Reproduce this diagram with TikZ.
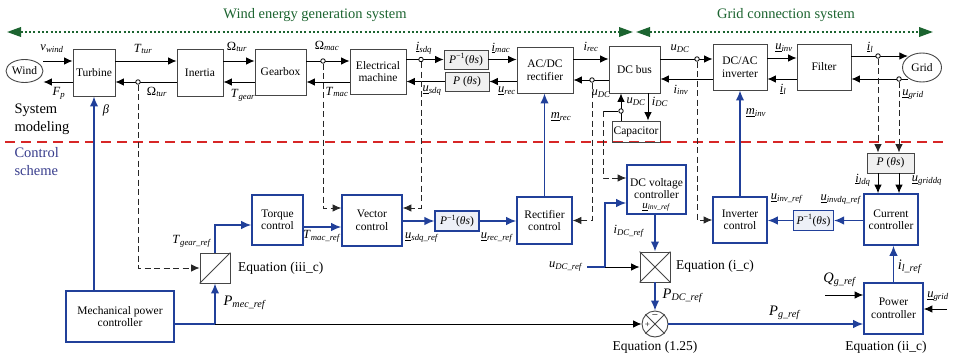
\documentclass[tikz,border=0pt]{standalone}
\usepackage{fontspec}
\setmainfont{Liberation Serif}
\usetikzlibrary{arrows.meta,shapes.geometric,calc}
\definecolor{ctlblue}{RGB}{33,64,154}
\definecolor{redC}{RGB}{215,38,38}
\definecolor{greenC}{RGB}{28,100,48}
\definecolor{schemeblue}{RGB}{55,60,140}
\definecolor{boxgray}{RGB}{70,70,70}
\newcommand{\mylab}[2]{\textit{#1}\textsubscript{\textit{#2}}}
\newcommand{\myulab}[2]{\underline{\textit{#1}}\textsubscript{\textit{#2}}}
\newcommand{\myOm}[1]{Ω\textsubscript{\textit{#1}}}
\newcommand{\Pinv}{\textit{P}\textsuperscript{−1}(\textit{θs})}
\newcommand{\Pfwd}{\textit{P} (\textit{θs})}
\begin{document}
\begin{tikzpicture}[x=1pt,y=-1pt,
  every node/.style={font=\fontsize{11.5}{12.5}\selectfont},
  sysbox/.style={draw=boxgray, line width=0.9pt, align=center, inner sep=1pt},
  ctlbox/.style={draw=ctlblue, line width=1.6pt, align=center, inner sep=1pt},
  pbox/.style={draw=boxgray, fill=gray!12, line width=0.9pt, inner sep=1pt},
  pctl/.style={draw=ctlblue, fill=ctlblue!8, line width=1.2pt, inner sep=1pt},
  arr/.style={line width=0.9pt, -{Latex[length=8.5pt,width=7.5pt]}},
  barr/.style={draw=ctlblue, line width=1.5pt, -{Latex[length=10pt,width=8.5pt]}},
  bline/.style={draw=ctlblue, line width=1.5pt},
  dsh/.style={line width=0.8pt, dash pattern=on 6pt off 3.5pt, black!85},
  darr/.style={dsh, -{Latex[length=8.5pt,width=7.5pt]}},
  tap/.style={circle, draw, fill=white, inner sep=0pt, minimum size=4.5pt, line width=0.8pt},
  lab/.style={inner sep=0pt, font=\fontsize{12.5}{13}\selectfont},
  biglab/.style={inner sep=0pt, font=\fontsize{14.5}{15}\selectfont},
  eqlab/.style={inner sep=0pt, font=\fontsize{13.5}{15}\selectfont},
]
\useasboundingbox (0,0) rectangle (958,359);

% ---------- headings ----------
\draw[greenC, line width=2pt, dash pattern=on 2pt off 2.3pt,
  {Triangle[length=14pt,width=9.5pt]}-{Triangle[length=14pt,width=9.5pt]}] (7,32) -- (633,32);
\draw[greenC, line width=2pt, dash pattern=on 2pt off 2.3pt,
  {Triangle[length=14pt,width=9.5pt]}-{Triangle[length=14pt,width=9.5pt]}] (636,32) -- (933,32);
\node[greenC, font=\fontsize{14.5}{16}\selectfont] (tw) at (315,15) {Wind energy generation system};
\node[greenC, font=\fontsize{14.5}{16}\selectfont] (tg) at (786,15) {Grid connection system};
\node[anchor=west, align=left, font=\fontsize{14.5}{18}\selectfont] (sm) at (11,119) {System\\modeling};
\node[anchor=west, align=left, text=schemeblue, font=\fontsize{14.5}{18}\selectfont] (cs) at (11,162) {Control\\scheme};
\draw[redC, line width=1.4pt, dash pattern=on 10pt off 6pt] (5,142) -- (945,142);

% ---------- system modeling blocks ----------
\node[ellipse, draw=boxgray, line width=0.9pt, minimum width=37, minimum height=23, inner sep=0pt] (wind) at (24.5,71) {Wind};
\node[sysbox, minimum width=42, minimum height=47] (turb) at (94,72.5) {Turbine};
\node[sysbox, minimum width=46, minimum height=47] (inert) at (200,72.5) {Inertia};
\node[sysbox, minimum width=51, minimum height=46] (gear) at (280.5,72) {Gearbox};
\node[sysbox, minimum width=56, minimum height=45] (em) at (378,71.5) {Electrical\\machine};
\node[pbox, minimum width=44, minimum height=19] (pinvT) at (466,59.5) {\Pinv};
\node[pbox, minimum width=44, minimum height=19] (pT) at (467,81.5) {\Pfwd};
\node[sysbox, minimum width=56, minimum height=46] (rect) at (545,70) {AC/DC\\rectifier};
\node[sysbox, minimum width=51, minimum height=47] (dcbus) at (634.5,69.5) {DC bus};
\node[sysbox, minimum width=48, minimum height=21] (cap) at (636,131.5) {Capacitor};
\node[sysbox, minimum width=54, minimum height=46] (inv) at (740,67) {DC/AC\\inverter};
\node[sysbox, minimum width=54, minimum height=46] (filt) at (824,67) {Filter};
\node[ellipse, draw=boxgray, line width=0.9pt, minimum width=39, minimum height=29, inner sep=0pt] (grid) at (922,67.5) {Grid};

% ---------- control blocks ----------
\node[ctlbox, minimum width=108, minimum height=51] (mech) at (120,316.5) {Mechanical power\\controller};
\node[sysbox, minimum size=30] (eqiii) at (215,268) {};
\draw[boxgray, line width=0.8pt] (eqiii.south west) -- (eqiii.north east);
\node[ctlbox, minimum width=51, minimum height=50] (torq) at (277.5,220) {Torque\\control};
\node[ctlbox, minimum width=60, minimum height=51] (vect) at (372,220.5) {Vector\\control};
\node[pctl, minimum width=44, minimum height=20] (pinvL) at (457,221) {\Pinv};
\node[ctlbox, minimum width=55, minimum height=47] (rctl) at (544.5,220.5) {Rectifier\\control};
\node[ctlbox, minimum width=59, minimum height=49] (dcvc) at (656.5,189.5) {};
\node[align=center, inner sep=0pt] (dcvctext) at (656.5,195) {DC voltage\\controller\\[-3pt]{\fontsize{11}{11}\selectfont\myulab{u}{inv\_ref}}};
\node[sysbox, minimum size=30] (xb) at (655,267) {};
\draw[boxgray, line width=0.8pt] (xb.north west) -- (xb.south east) (xb.north east) -- (xb.south west);
\node[circle, draw=boxgray, line width=0.9pt, minimum size=26, inner sep=0pt] (sum) at (655,324) {};
\draw[boxgray, line width=0.8pt] (sum.north west) -- (sum.south east) (sum.north east) -- (sum.south west);
\node[inner sep=0pt, font=\fontsize{9}{9}\selectfont] (splus) at (647.5,325) {+};
\node[inner sep=0pt, font=\fontsize{11}{11}\selectfont] (sminus) at (655,316.5) {−};
\node[ctlbox, minimum width=54, minimum height=46] (ictl) at (740,220) {Inverter\\control};
\node[pctl, minimum width=40, minimum height=20] (pinvR) at (813.5,220.5) {\Pinv};
\node[ctlbox, minimum width=54, minimum height=51] (cur) at (891,219.5) {Current\\controller};
\node[ctlbox, minimum width=59, minimum height=51] (pow) at (893.5,308.5) {Power\\controller};
\node[pbox, minimum width=47, minimum height=20] (pR) at (890.5,163) {\Pfwd};

% ---------- system modeling connectors ----------
\draw[arr] (wind.east|-0,61) -- (turb.west|-0,61);
\draw[arr] (turb.west|-0,82) -- (wind.east|-0,82);
\draw[arr] (turb.east|-0,61) -- (inert.west|-0,61);
\draw[arr] (inert.west|-0,82) -- (turb.east|-0,82);
\draw[arr] (inert.east|-0,61) -- (gear.west|-0,61);
\draw[arr] (gear.west|-0,82) -- (inert.east|-0,82);
\draw[arr] (gear.east|-0,61) -- (em.west|-0,61);
\draw[arr] (em.west|-0,82) -- (gear.east|-0,82);
\draw[arr] (em.east|-pinvT.west) -- (pinvT.west);
\draw[arr] (pT.west) -- (em.east|-pT.west);
\draw[arr] (pinvT.east) -- (rect.west|-pinvT.east);
\draw[arr] (rect.west|-pT.east) -- (pT.east);
\draw[arr] (rect.east|-0,59) -- (dcbus.west|-0,59);
\draw[arr] (dcbus.west|-0,80) -- (rect.east|-0,80);
\draw[arr] (dcbus.east|-0,59) -- (inv.west|-0,59);
\draw[arr] (inv.west|-0,79) -- (dcbus.east|-0,79);
\draw[arr] (inv.east|-0,58) -- (filt.west|-0,58);
\draw[arr] (filt.west|-0,79) -- (inv.east|-0,79);
\draw[arr] (filt.east|-0,56) -- (grid.north west|-0,56);
\draw[arr] (grid.south west|-0,79) -- (filt.east|-0,79);
\draw[arr] (cap.north-|621,0) -- (dcbus.south-|621,0);
\draw[arr] (dcbus.south-|648,0) -- (cap.north-|648,0);

% taps
\node[tap] (t1) at (138,82) {};
\node[tap] (t2) at (323,61) {};
\node[tap] (t3) at (421,59.5) {};
\node[tap] (t4) at (592,80) {};
\node[tap] (t5) at (697,59) {};
\node[tap] (t6) at (878,56) {};
\node[tap] (t7) at (899,79) {};
\node[tap] (t8) at (621,111) {};
\coordinate (c1) at (603,111);
\draw[line width=0.8pt] (t8.west) -- (c1);

% ---------- measurement (dashed) connectors ----------
\draw[darr] (t1.south) |- (eqiii.west);
\draw[darr] (t2.south) |- (vect.west|-0,208);
\draw[darr] (t3.south) |- (vect.east|-0,208);
\draw[darr] (t4.south) |- (rctl.east);
\draw[darr] (c1) |- (dcvc.west|-0,178);
\draw[darr] (t5.south) |- (ictl.west);
\draw[darr] (t6.south) -- (pR.north-|t6);
\draw[darr] (t7.south) -- (pR.north-|t7);
\draw[arr] (pR.south-|t6) -- (cur.north-|t6);
\draw[arr] (pR.south-|t7) -- (cur.north-|t7);

% ---------- control connectors ----------
\draw[barr] (mech.north-|turb.south) -- (turb.south);
\coordinate (j1) at (eqiii.south|-0,324);
\draw[arr] (j1) -- (sum.west);
\draw[bline] (mech.east|-0,324) -- (j1);
\draw[barr] (j1) -- (eqiii.south);
\draw[barr] (eqiii.north) |- (torq.west|-0,225);
\draw[barr] (torq.east|-0,227) -- (vect.west|-0,227);
\draw[barr] (vect.east|-pinvL.west) -- (pinvL.west);
\draw[barr] (pinvL.east) -- (rctl.west|-pinvL.east);
\draw[barr] (rctl.north) -- (rctl.north|-rect.south);
\coordinate (udcref) at (587,267);
\coordinate (j2) at (605,267);
\draw[arr] (j2) -- (xb.west);
\draw[bline] (udcref) -- (j2);
\draw[barr] (j2) |- (dcvc.west|-0,203);
\draw[barr] (xb.north|-dcvc.south) -- (xb.north);
\draw[barr] (xb.south) -- (sum.north);
\draw[barr] (sum.east) -- (pow.west|-sum.east);
\draw[barr] (pow.north) -- (pow.north|-cur.south);
\coordinate (qin) at (825,295);
\draw[arr] (qin) -- (pow.west|-qin);
\coordinate (ugin) at (947,309);
\draw[arr] (ugin) -- (pow.east|-ugin);
\draw[barr] (cur.west|-pinvR.east) -- (pinvR.east);
\draw[barr] (pinvR.west) -- (ictl.east|-pinvR.west);
\draw[barr] (ictl.north) -- (ictl.north|-inv.south);

% ---------- labels ----------
\node[lab] (lvw) at (52,49) {\mylab{v}{wind}};
\node[lab] (lfp) at (59,93) {\mylab{F}{p}};
\node[lab] (ltt) at (143,49) {\mylab{T}{tur}};
\node[lab] (lot1) at (157,92) {\myOm{tur}};
\node[lab] (lot2) at (237,47) {\myOm{tur}};
\node[lab] (ltg) at (243,95) {\mylab{T}{gear}};
\node[lab] (lom) at (327,46) {\myOm{mac}};
\node[lab] (ltm) at (337,92) {\mylab{T}{mac}};
\node[lab] (lis) at (424,48) {\myulab{i}{sdq}};
\node[lab] (lus) at (432,91) {\myulab{u}{sdq}};
\node[lab] (lim) at (501,48) {\myulab{i}{mac}};
\node[lab] (lur) at (507,91) {\myulab{u}{rec}};
\node[lab] (lir) at (591,47) {\mylab{i}{rec}};
\node[lab] (lud1) at (601,94) {\mylab{u}{DC}};
\node[lab] (lud2) at (636,102) {\mylab{u}{DC}};
\node[lab] (lidc) at (660,102) {\mylab{i}{DC}};
\node[lab] (lud3) at (680,49) {\mylab{u}{DC}};
\node[lab] (liinv) at (681,90) {\mylab{i}{inv}};
\node[lab] (lmrec) at (561,117) {\myulab{m}{rec}};
\node[lab] (lminv) at (756,113) {\myulab{m}{inv}};
\node[lab] (luinv) at (784,48) {\myulab{u}{inv}};
\node[lab] (lil1) at (783,89) {\myulab{i}{l}};
\node[lab] (lil2) at (870,47) {\myulab{i}{l}};
\node[lab] (lug1) at (913,95) {\myulab{u}{grid}};
\node[lab] (lbeta) at (106,110) {\textit{β}};
\node[lab] (ltgr) at (192,241) {\mylab{T}{gear\_ref}};
\node[lab] (ltmr) at (322,236) {\mylab{T}{mac\_ref}};
\node[lab] (lusr) at (422,238) {\myulab{u}{sdq\_ref}};
\node[lab] (lurr) at (497,238) {\myulab{u}{rec\_ref}};
\node[lab] (ludr) at (566,267) {\mylab{u}{DC\_ref}};
\node[lab] (lidr) at (629,231) {\mylab{i}{DC\_ref}};
\node[biglab] (lpdc) at (683,296) {\mylab{P}{DC\_ref}};
\node[biglab] (lpmec) at (245,303) {\mylab{P}{mec\_ref}};
\node[biglab] (lpg) at (785,313) {\mylab{P}{g\_ref}};
\node[biglab] (lqg) at (840,280) {\mylab{Q}{g\_ref}};
\node[lab] (lug2) at (938,297) {\myulab{u}{grid}};
\node[biglab] (lilr) at (910,267) {\mylab{i}{l\_ref}};
\node[lab] (luir) at (787,199) {\myulab{u}{inv\_ref}};
\node[lab] (luidq) at (841,200) {\myulab{u}{invdq\_ref}};
\node[lab] (lildq) at (863,180) {\myulab{i}{ldq}};
\node[lab] (lugdq) at (927,181) {\myulab{u}{griddq}};

\node[eqlab, anchor=west] (eq1) at (238,268) {Equation (iii\_c)};
\node[eqlab, anchor=west] (eq2) at (676,266) {Equation (i\_c)};
\node[eqlab] (eq3) at (655,347) {Equation (1.25)};
\node[eqlab] (eq4) at (886,347) {Equation (ii\_c)};
\end{tikzpicture}
\end{document}
